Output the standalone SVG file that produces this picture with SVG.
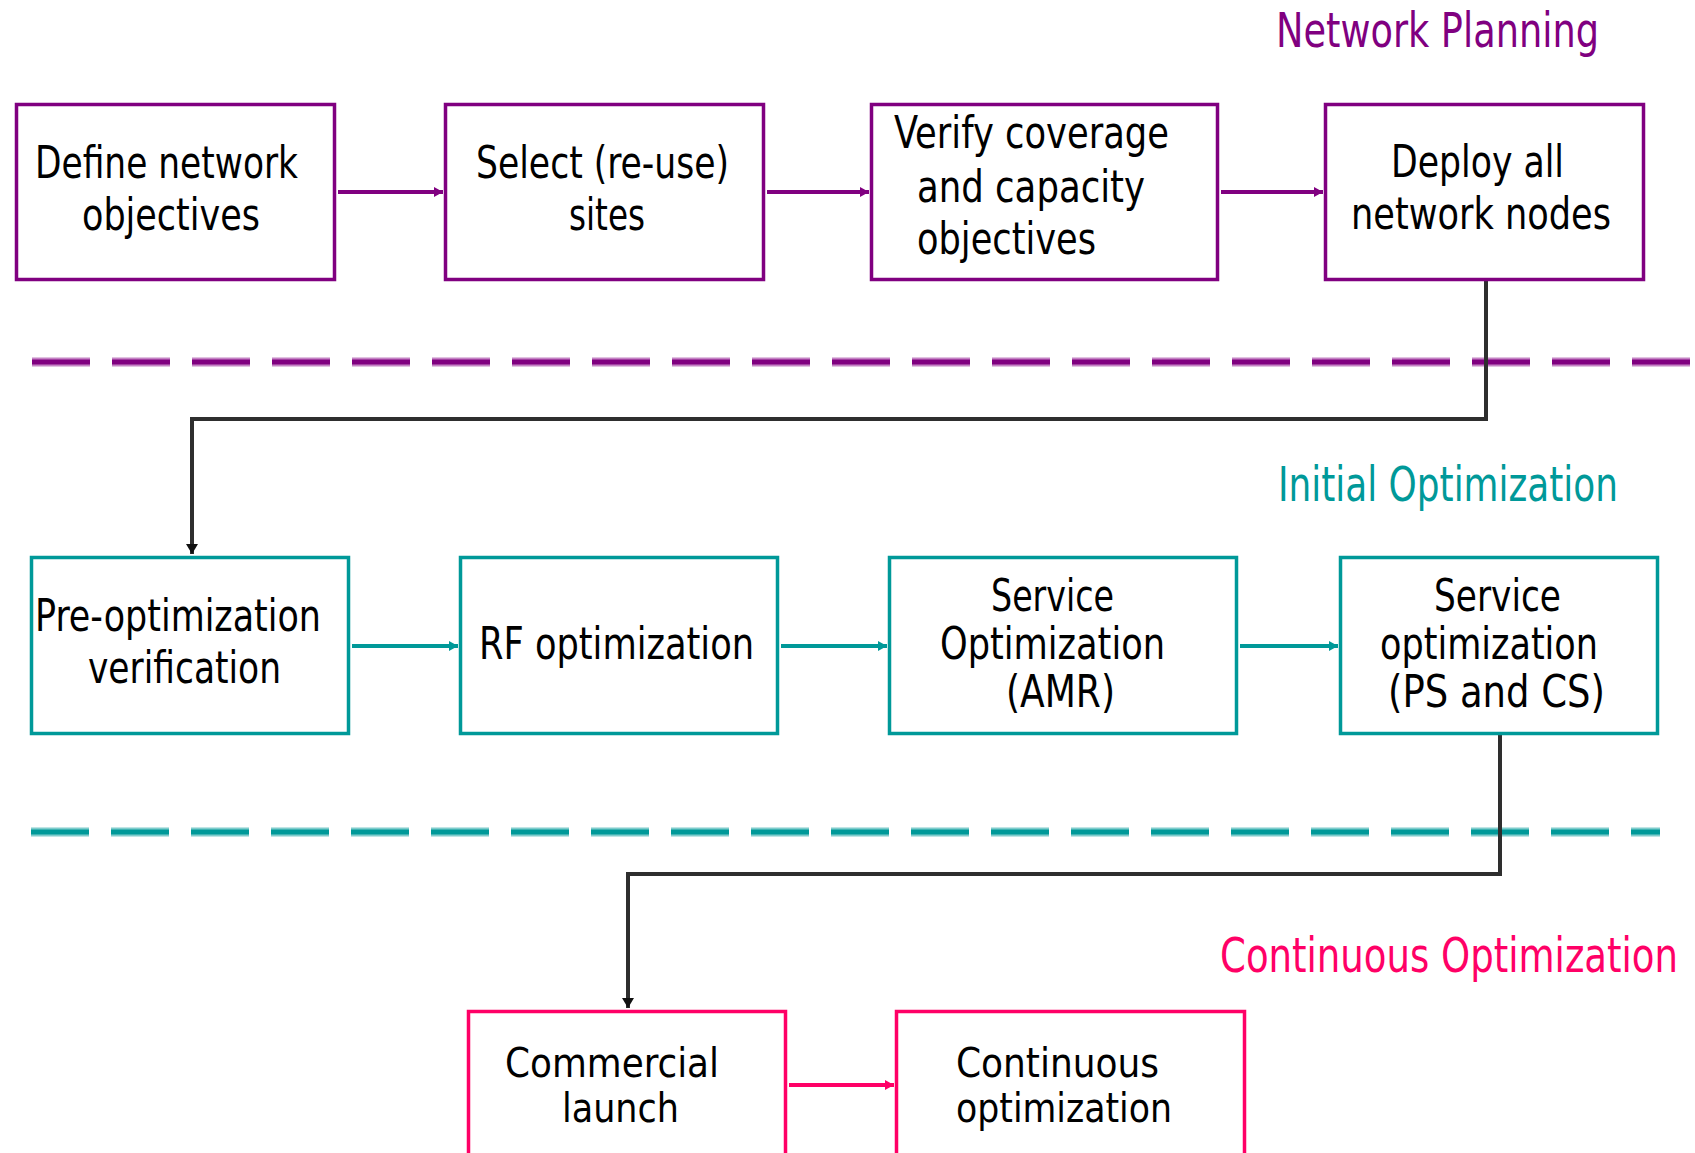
<svg xmlns="http://www.w3.org/2000/svg" width="1695" height="1153" viewBox="0 0 1695 1153">
  <style>
    .box { fill: #ffffff; stroke-width: 3.5; }
    .plan { stroke: #800080; }
    .init { stroke: #009999; }
    .cont { stroke: #ff0066; }
    .lbl { font-family: "DejaVu Sans", "Liberation Sans", sans-serif; font-stretch: condensed; font-size: 45px; fill: #000000; }
    .tight { font-size: 40px; }
    .phase { font-family: "DejaVu Sans", "Liberation Sans", sans-serif; font-stretch: condensed; font-size: 48px; }
    .phase-sm { font-size: 41px; }
    .flow { fill: none; stroke-width: 4; }
    .link { fill: none; stroke: #2e2e2e; stroke-width: 4; }
  </style>
  <defs>
    <marker id="ah-plan" markerUnits="userSpaceOnUse" markerWidth="10" markerHeight="10" refX="9" refY="5" orient="auto">
      <path d="M0,0 L9,5 L0,10 z" fill="#800080"/>
    </marker>
    <marker id="ah-init" markerUnits="userSpaceOnUse" markerWidth="10" markerHeight="10" refX="9" refY="5" orient="auto">
      <path d="M0,0 L9,5 L0,10 z" fill="#009999"/>
    </marker>
    <marker id="ah-cont" markerUnits="userSpaceOnUse" markerWidth="10" markerHeight="10" refX="9" refY="5" orient="auto">
      <path d="M0,0 L9,5 L0,10 z" fill="#ff0066"/>
    </marker>
    <marker id="ah-link" markerUnits="userSpaceOnUse" markerWidth="12" markerHeight="12" refX="10" refY="6" orient="auto">
      <path d="M0,0 L10,6 L0,12 z" fill="#111111"/>
    </marker>
  </defs>

  <rect width="1695" height="1153" fill="#ffffff"/>

  <!-- phase separators -->
  <g id="separators">
    <line x1="32" y1="362" x2="1690" y2="362" stroke="#c483c4" stroke-width="9" stroke-dasharray="58 22"/>
    <line x1="32" y1="362" x2="1690" y2="362" stroke="#800080" stroke-width="5" stroke-dasharray="58 22"/>
    <line x1="31" y1="832" x2="1660" y2="832" stroke="#7fcccc" stroke-width="9" stroke-dasharray="58 22"/>
    <line x1="31" y1="832" x2="1660" y2="832" stroke="#009999" stroke-width="5" stroke-dasharray="58 22"/>
  </g>

  <!-- phase titles -->
  <g id="phase-titles">
    <text class="phase" x="1276" y="47" fill="#800080" textLength="323" lengthAdjust="spacingAndGlyphs">Network Planning</text>
    <text class="phase" x="1278" y="501" fill="#009999" textLength="340" lengthAdjust="spacingAndGlyphs">Initial Optimization</text>
    <g transform="translate(1220,972) scale(1,1.18)">
      <text class="phase phase-sm" x="0" y="0" fill="#ff0066" textLength="458" lengthAdjust="spacingAndGlyphs">Continuous Optimization</text>
    </g>
  </g>

  <!-- connectors -->
  <g id="connectors">
    <line class="flow plan" x1="338" y1="192" x2="443" y2="192" marker-end="url(#ah-plan)"/>
    <line class="flow plan" x1="767" y1="192" x2="869" y2="192" marker-end="url(#ah-plan)"/>
    <line class="flow plan" x1="1221" y1="192" x2="1323" y2="192" marker-end="url(#ah-plan)"/>
    <path class="link" d="M1486,281 V419 H192 V554" marker-end="url(#ah-link)"/>
    <line class="flow init" x1="352" y1="646" x2="458" y2="646" marker-end="url(#ah-init)"/>
    <line class="flow init" x1="781" y1="646" x2="887" y2="646" marker-end="url(#ah-init)"/>
    <line class="flow init" x1="1240" y1="646" x2="1338" y2="646" marker-end="url(#ah-init)"/>
    <path class="link" d="M1500,735 V874 H628 V1008" marker-end="url(#ah-link)"/>
    <line class="flow cont" x1="789" y1="1085" x2="894" y2="1085" marker-end="url(#ah-cont)"/>
  </g>

  <!-- network planning -->
  <g id="define-objectives">
    <rect class="box plan" x="16.5" y="104.5" width="318" height="175"/>
    <text class="lbl" x="35" y="178" textLength="263" lengthAdjust="spacingAndGlyphs">Define network</text>
    <text class="lbl" x="82" y="230" textLength="178" lengthAdjust="spacingAndGlyphs">objectives</text>
  </g>
  <g id="select-sites">
    <rect class="box plan" x="445.5" y="104.5" width="318" height="175"/>
    <text class="lbl" x="476" y="178" textLength="253" lengthAdjust="spacingAndGlyphs">Select (re-use)</text>
    <text class="lbl" x="569" y="230" textLength="76" lengthAdjust="spacingAndGlyphs">sites</text>
  </g>
  <g id="verify-coverage">
    <rect class="box plan" x="871.5" y="104.5" width="346" height="175"/>
    <text class="lbl" x="894" y="148" textLength="275" lengthAdjust="spacingAndGlyphs">Verify coverage</text>
    <text class="lbl" x="917" y="202" textLength="228" lengthAdjust="spacingAndGlyphs">and capacity</text>
    <text class="lbl" x="917" y="254" textLength="179" lengthAdjust="spacingAndGlyphs">objectives</text>
  </g>
  <g id="deploy-nodes">
    <rect class="box plan" x="1325.5" y="104.5" width="318" height="175"/>
    <text class="lbl" x="1391" y="177" textLength="173" lengthAdjust="spacingAndGlyphs">Deploy all</text>
    <text class="lbl" x="1351" y="229" textLength="260" lengthAdjust="spacingAndGlyphs">network nodes</text>
  </g>

  <!-- initial optimization -->
  <g id="pre-optimization">
    <rect class="box init" x="31.5" y="557.5" width="317" height="176"/>
    <text class="lbl" x="35" y="631" textLength="286" lengthAdjust="spacingAndGlyphs">Pre-optimization</text>
    <text class="lbl" x="88" y="683" textLength="193" lengthAdjust="spacingAndGlyphs">verification</text>
  </g>
  <g id="rf-optimization">
    <rect class="box init" x="460.5" y="557.5" width="317" height="176"/>
    <text class="lbl" x="479" y="659" textLength="275" lengthAdjust="spacingAndGlyphs">RF optimization</text>
  </g>
  <g id="service-amr">
    <rect class="box init" x="889.5" y="557.5" width="347" height="176"/>
    <text class="lbl" x="991" y="611" textLength="123" lengthAdjust="spacingAndGlyphs">Service</text>
    <text class="lbl" x="940" y="659" textLength="225" lengthAdjust="spacingAndGlyphs">Optimization</text>
    <text class="lbl" x="1006" y="707" textLength="109" lengthAdjust="spacingAndGlyphs">(AMR)</text>
  </g>
  <g id="service-ps-cs">
    <rect class="box init" x="1340.5" y="557.5" width="317" height="176"/>
    <text class="lbl" x="1434" y="611" textLength="127" lengthAdjust="spacingAndGlyphs">Service</text>
    <text class="lbl" x="1380" y="659" textLength="218" lengthAdjust="spacingAndGlyphs">optimization</text>
    <text class="lbl" x="1388" y="707" textLength="217" lengthAdjust="spacingAndGlyphs">(PS and CS)</text>
  </g>

  <!-- continuous optimization -->
  <g id="commercial-launch">
    <rect class="box cont" x="468.5" y="1011.5" width="317" height="200"/>
    <text class="lbl tight" x="505" y="1077" textLength="214" lengthAdjust="spacingAndGlyphs">Commercial</text>
    <text class="lbl tight" x="562" y="1122" textLength="117" lengthAdjust="spacingAndGlyphs">launch</text>
  </g>
  <g id="continuous-optimization">
    <rect class="box cont" x="896.5" y="1011.5" width="348" height="200"/>
    <text class="lbl tight" x="956" y="1077" textLength="203" lengthAdjust="spacingAndGlyphs">Continuous</text>
    <text class="lbl tight" x="956" y="1122" textLength="216" lengthAdjust="spacingAndGlyphs">optimization</text>
  </g>
</svg>
